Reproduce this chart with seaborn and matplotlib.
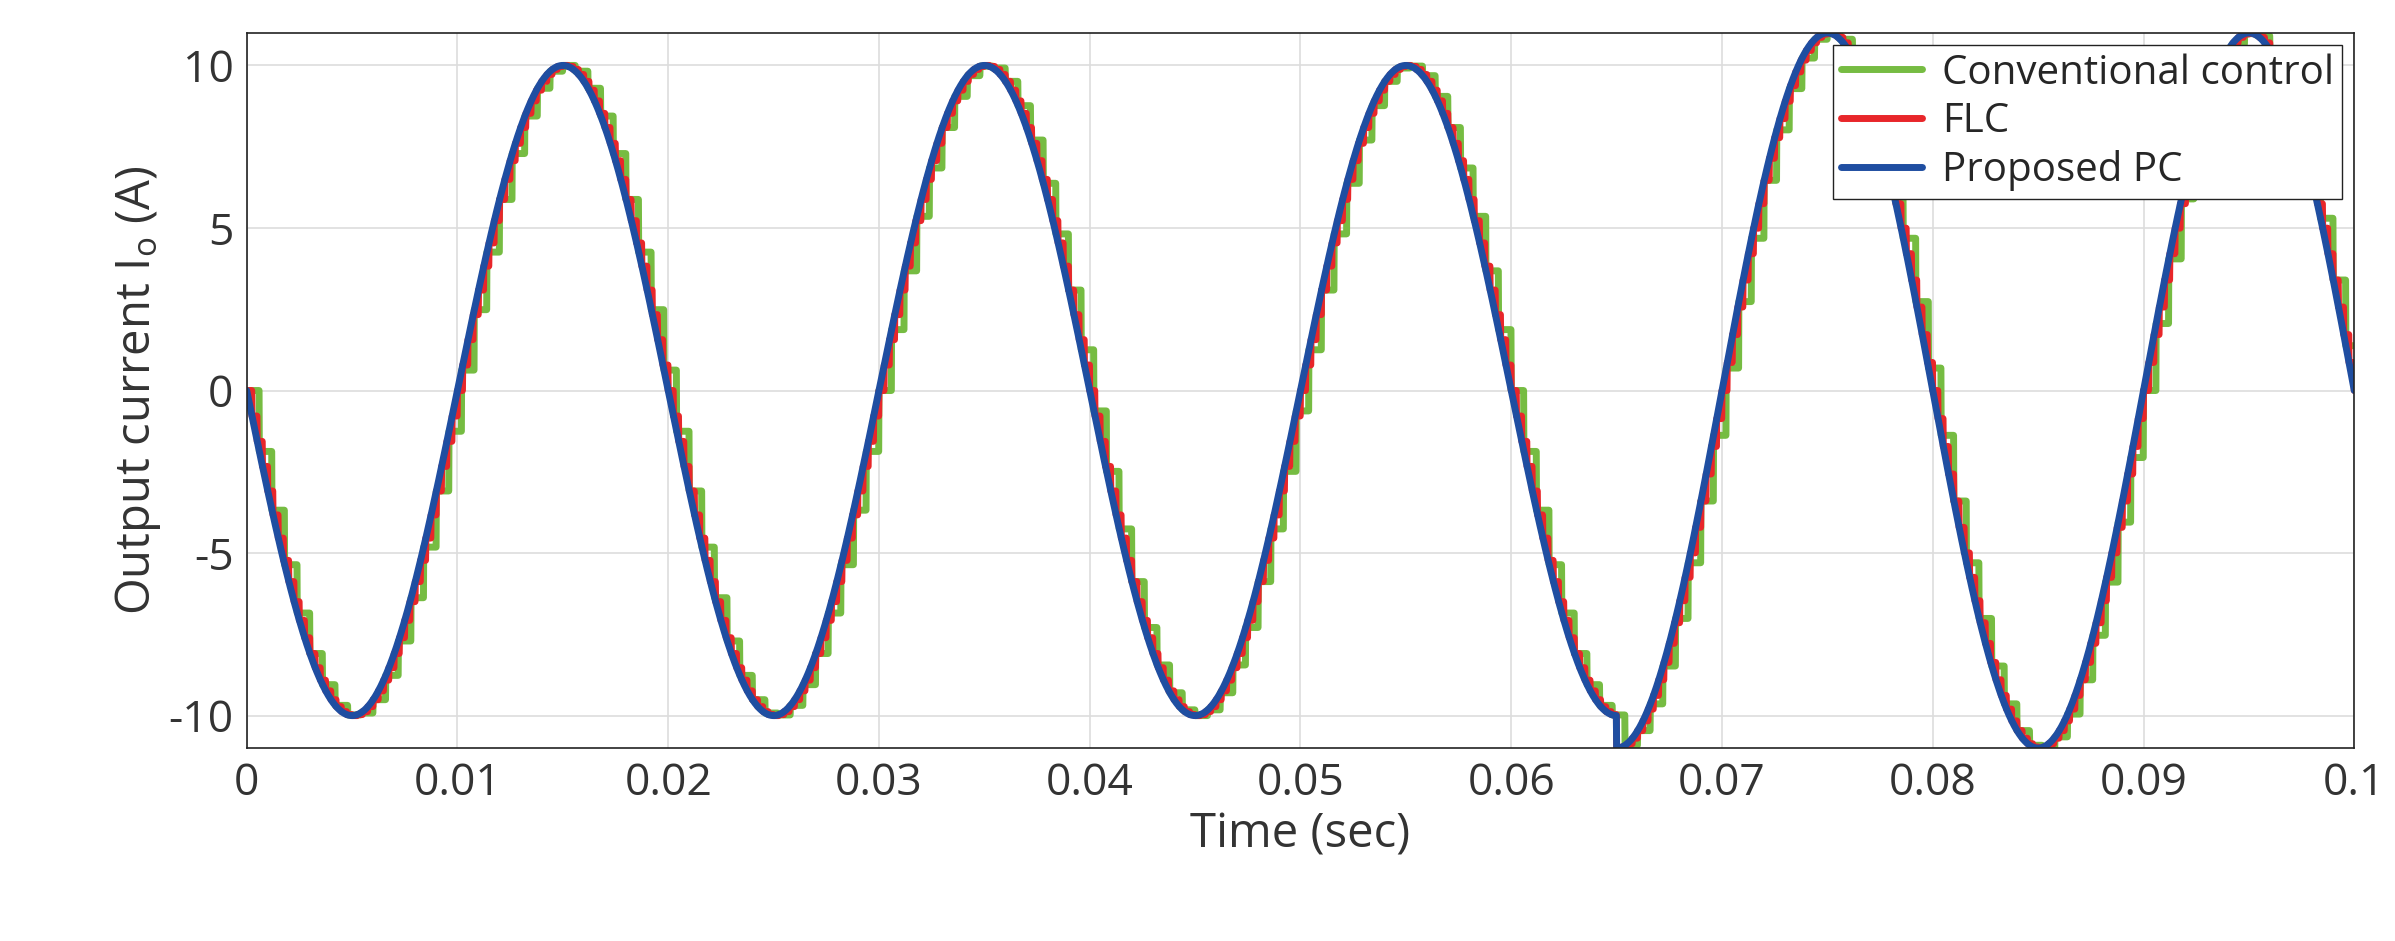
import numpy as np
import pandas as pd
import seaborn as sns
import matplotlib
matplotlib.use("Agg")
import matplotlib.pyplot as plt

# Signal definition
freq_hz = 50.0
segment_start = [0.0, 0.065]      # s
segment_amp = [10.0, 11.0]        # A (reference amplitude)
conv_hold = 0.0006                # green staircase hold time (s)
flc_hold = 0.00025
series_names = ["Conventional control", "FLC", "Proposed PC"]
colors = ["#76BC42", "#E8262A", "#1F4EA1"]
xticks = [0, 0.01, 0.02, 0.03, 0.04, 0.05, 0.06, 0.07, 0.08, 0.09, 0.1]
yticks = [-10, -5, 0, 5, 10]

t = np.linspace(0, 0.1, 8001)

def ref(tt):
    amp = np.where(tt >= segment_start[1], segment_amp[1], segment_amp[0])
    return -amp * np.sin(2 * np.pi * freq_hz * tt)

def held(tt, h):
    return ref(np.floor(tt / h) * h)

df = pd.concat([
    pd.DataFrame({"t": t, "i": held(t, conv_hold), "s": series_names[0]}),
    pd.DataFrame({"t": t, "i": held(t, flc_hold), "s": series_names[1]}),
    pd.DataFrame({"t": t, "i": ref(t), "s": series_names[2]}),
])

sns.set_theme(style="whitegrid")
plt.rcParams['font.family'] = ['Open Sans', 'DejaVu Sans']
plt.rcParams['axes.unicode_minus'] = False
fig = plt.figure(figsize=(23.95, 9.41), dpi=100)
ax = fig.add_axes([0.103, 0.205, 0.88, 0.76])
sns.lineplot(data=df, x="t", y="i", hue="s", palette=colors, linewidth=5,
             ax=ax, estimator=None, sort=False)
ax.set_xlim(0, 0.1)
ax.set_ylim(-11, 11)
ax.set_xticks(xticks)
ax.set_xticklabels([("%g" % v) for v in xticks])
ax.set_yticks(yticks)
ax.tick_params(labelsize=32, colors="#333333")
ax.set_xlabel("Time (sec)", fontsize=34, color="#333333")
ax.set_ylabel("Output current I$_\\mathregular{o}$ (A)", fontsize=34, color="#333333")
ax.grid(True, color="#DDDDDD", linewidth=1.2)
for sp in ax.spines.values():
    sp.set_visible(True)
    sp.set_color("#222222")
    sp.set_linewidth(1.2)
leg = ax.legend(loc="upper right", fontsize=29, frameon=True, fancybox=False,
                borderaxespad=0.3, handlelength=2.0, borderpad=0.2, labelspacing=0.2,
                handletextpad=0.5)
leg.get_frame().set_edgecolor("#222222")
leg.get_frame().set_alpha(1)
for l in leg.get_lines():
    l.set_linewidth(5)
fig.savefig("out.png", dpi=100)
